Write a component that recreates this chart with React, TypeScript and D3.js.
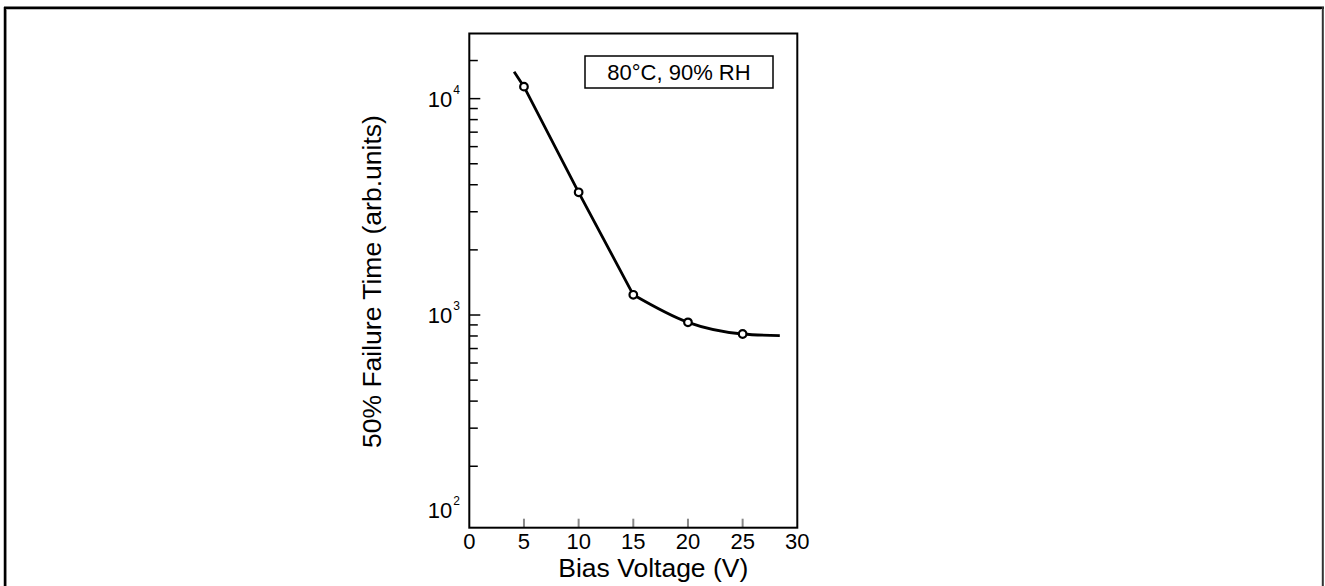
import React from "react";
import * as d3 from "d3";

const W = 1325;
const H = 586;

// Data
const biasVoltage = [5, 10, 15, 20, 25];
const failureTime = [11360, 3690, 1240, 925, 817];
// fitted curve: straight (on log axis) part, then the saturating part
const steepX = [4.1, 5, 10, 15];
const steepY = [13320, 11360, 3690, 1240];
const flatX = [15, 20, 25, 28.4];
const flatY = [1240, 925, 817, 803];

const xTicks = [0, 5, 10, 15, 20, 25, 30];
const yMajor = [100, 1000, 10000];
const yMajorExp = ["2", "3", "4"];
const yMinor = [200, 300, 400, 500, 600, 700, 800, 900, 2000, 3000, 4000, 5000, 6000, 7000, 8000, 9000, 15000];
const legendText = "80°C, 90% RH";
const xTitle = "Bias Voltage (V)";
const yTitle = "50% Failure Time (arb.units)";

const FONT = "'Liberation Sans', Arial, Helvetica, sans-serif";

export default function App() {
  const left = 469.3, right = 797.3, top = 33.5, bottom = 527.7;
  const x = d3.scaleLinear().domain([0, 30]).range([left, right]);
  const y = d3.scaleLog().domain([104, 20000]).range([bottom, top]);

  const mk = (xs: number[], curve: d3.CurveFactory) =>
    d3
      .line<number>()
      .x((_, i) => x(xs[i]))
      .y((d) => y(d))
      .curve(curve);

  const steepPath = mk(steepX, d3.curveLinear)(steepY) || "";
  const flatPath = mk(flatX, d3.curveMonotoneX)(flatY) || "";

  return (
    <svg
      width={W}
      height={H}
      style={{ position: "absolute", left: 0, top: 0, display: "block", background: "#fff" }}
      fontFamily={FONT}
    >
      <rect x={0} y={0} width={W} height={H} fill="#fff" />
      {/* outer frame */}
      <line x1={6.5} y1={9.5} x2={1321} y2={9.5} stroke="#bbb" strokeWidth={1} />
      <line x1={6.5} y1={9.5} x2={6.5} y2={H} stroke="#bbb" strokeWidth={1} />
      <line x1={4} y1={7.8} x2={1324} y2={7.8} stroke="#000" strokeWidth={2.5} />
      <line x1={5} y1={7} x2={5} y2={H} stroke="#000" strokeWidth={2.5} />
      <line x1={1322.8} y1={7} x2={1322.8} y2={H} stroke="#333" strokeWidth={2} />

      {/* y minor ticks */}
      {yMinor.map((v) => (
        <line key={"m" + v} x1={left} x2={left + 8.5} y1={y(v)} y2={y(v)} stroke="#000" strokeWidth={1.5} />
      ))}
      {/* y major ticks and labels */}
      {yMajor.map((v, i) => {
        const inside = v >= y.domain()[0];
        const yy = inside ? y(v) : bottom;
        const ly = inside ? yy : bottom - 18;
        return (
          <g key={"M" + v}>
            {inside && <line x1={left} x2={left + 11} y1={yy} y2={yy} stroke="#000" strokeWidth={1.5} />}
            <text x={left - 17} y={ly} dy="0.36em" fontSize={22} textAnchor="end" fill="#000">
              10
            </text>
            <text x={left - 16} y={ly - 5} fontSize={12} textAnchor="start" fill="#000">
              {yMajorExp[i]}
            </text>
          </g>
        );
      })}

      {/* x ticks and labels */}
      {xTicks.map((v) => (
        <g key={"x" + v}>
          {v > 0 && v < 30 && (
            <line x1={x(v)} x2={x(v)} y1={bottom} y2={bottom - 9} stroke="#888" strokeWidth={2} />
          )}
          <text x={x(v)} y={bottom + 21} fontSize={22} textAnchor="middle" fill="#000">
            {v}
          </text>
        </g>
      ))}

      {/* plot frame */}
      <rect x={left} y={top} width={right - left} height={bottom - top} fill="none" stroke="#000" strokeWidth={2} />

      {/* curve */}
      <path d={steepPath} fill="none" stroke="#000" strokeWidth={2.8} strokeLinejoin="round" />
      <path d={flatPath} fill="none" stroke="#000" strokeWidth={2.8} strokeLinejoin="round" />
      {biasVoltage.map((v, i) => (
        <circle key={"p" + v} cx={x(v)} cy={y(failureTime[i])} r={3.8} fill="#fff" stroke="#000" strokeWidth={2.2} />
      ))}

      {/* legend box */}
      <rect x={585} y={56} width={188} height={32} fill="#fff" stroke="#000" strokeWidth={1.5} />
      <text x={679} y={80} fontSize={22} textAnchor="middle" fill="#000">
        {legendText}
      </text>

      {/* axis titles */}
      <text x={(left + right) / 2 + 20} y={576.5} fontSize={26.5} textAnchor="middle" fill="#000">
        {xTitle}
      </text>
      <text
        transform={`translate(381, ${(top + bottom) / 2 + 1}) rotate(-90)`}
        fontSize={26.5}
        textAnchor="middle"
        fill="#000"
      >
        {yTitle}
      </text>
    </svg>
  );
}
